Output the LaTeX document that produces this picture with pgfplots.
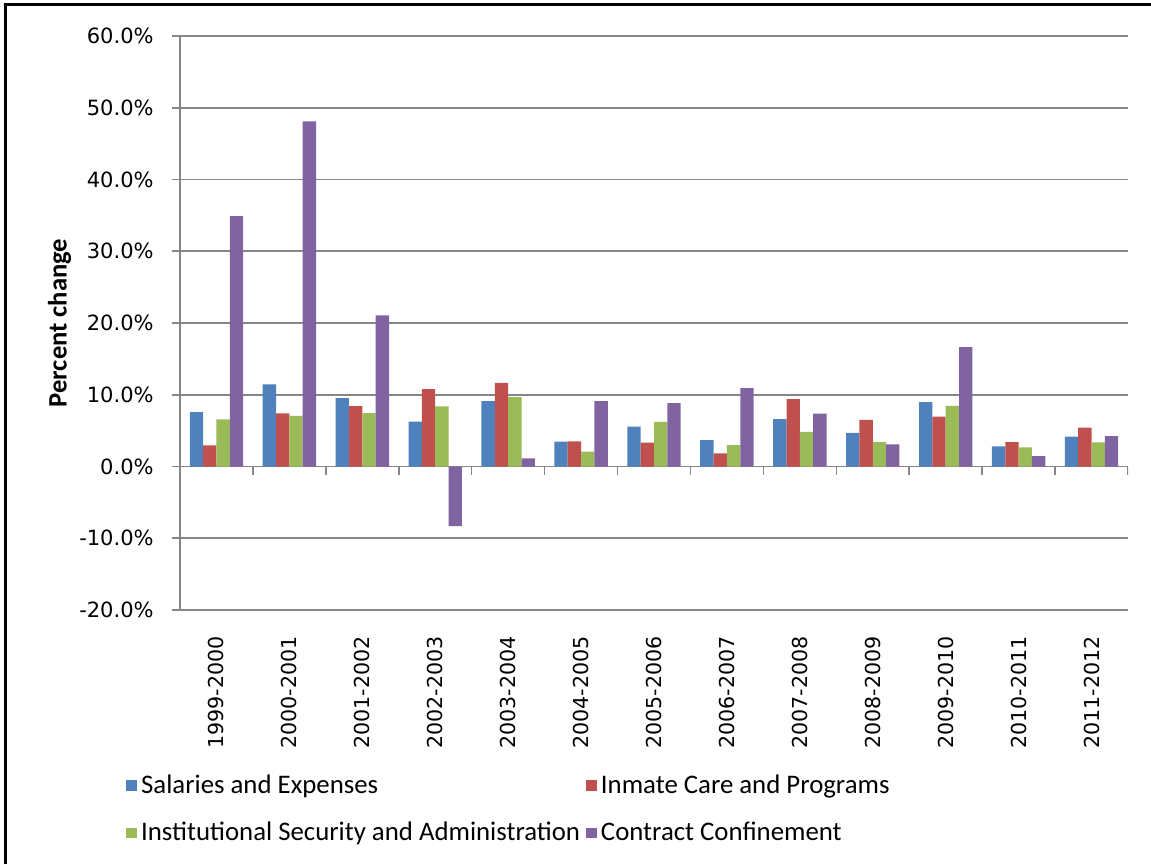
\documentclass[border=0pt]{standalone}
\usepackage{fontspec}
\setmainfont{Carlito}
\newfontfamily\dejavu{DejaVu Sans}
\usepackage{pgfplots}
\pgfplotsset{compat=1.18}
\usepackage{pgfplotstable}

\definecolor{salc}{HTML}{4F81BD}
\definecolor{inmc}{HTML}{C0504D}
\definecolor{secc}{HTML}{9BBB59}
\definecolor{conc}{HTML}{8064A2}
\definecolor{gridc}{HTML}{868686}

% percent change by fiscal year
\pgfplotstableread{
idx sal   inm   sec  con
0   7.59  2.96  6.57 34.9
1   11.44 7.41  7.04 48.1
2   9.54  8.43  7.45 21.06
3   6.25  10.79 8.38 -8.3
4   9.11  11.64 9.67 1.12
5   3.46  3.50  2.06 9.11
6   5.56  3.32  6.21 8.83
7   3.69  1.82  2.99 10.93
8   6.59  9.39  4.81 7.38
9   4.67  6.50  3.41 3.08
10  8.97  6.96  8.46 16.64
11  2.80  3.41  2.66 1.45
12  4.16  5.42  3.36 4.25
}\budget

\begin{document}
\begin{tikzpicture}
\path[use as bounding box] (0,0) rectangle (575.5pt,432pt);
\draw[line width=1.5pt] (2.5pt,0) -- (2.5pt,429.5pt) -- (575.5pt,429.5pt);
\begin{axis}[at={(90pt,127pt)}, anchor=south west
            , scale only axis
            , width=474pt
            , height=287pt
            , ybar=0pt
            , bar width=0.183
            , xmin=-0.5, xmax=12.5
            , ymin=-20, ymax=60
            , ytick={-20,-10,...,60}
            , axis lines*=left
            , axis line style={gridc, line width=0.8pt}
            , ymajorgrids
            , grid style={gridc, line width=0.8pt}
            , xtick={0,...,12}
            , xticklabels={1999-2000,2000-2001,2001-2002,2002-2003,2003-2004,2004-2005,2005-2006,2006-2007,2007-2008,2008-2009,2009-2010,2010-2011,2011-2012}
            , x tick style={draw=none}
            , xticklabel style={rotate=90, anchor=east, inner sep=0pt, font=\dejavu\fontsize{10.3}{12}\selectfont}
            , xticklabel shift=9pt
            , y tick style={gridc, line width=0.8pt}
            , tick align=outside
            , major tick length=4pt
            , yticklabel={\pgfmathprintnumber[fixed,fixed zerofill,precision=1]{\tick}\%}
            , yticklabel style={inner sep=0pt, font=\dejavu\fontsize{10.5}{12}\selectfont}
            , yticklabel shift=9pt
            , /pgf/number format/assume math mode=true
            , ylabel={Percent change}
            , ylabel style={at={(axis description cs:-0.127,0.5)}, anchor=center, font=\bfseries\fontsize{13.3}{15}\selectfont}
            , legend columns=2
            , legend cell align=left
            , legend style={at={(axis description cs:-0.057,-0.279)}, anchor=north west, draw=none, fill=none, inner sep=0pt, font=\fontsize{13.4}{15}\selectfont, row sep=9pt, /tikz/every even column/.append style={column sep=1pt}}
            , legend image code/.code={\fill[#1] (0pt,-2.7pt) rectangle (5.4pt,2.7pt);}
            ]
\addplot[fill=salc, draw=none] table[x=idx, y=sal] {\budget};
\addplot[fill=inmc, draw=none] table[x=idx, y=inm] {\budget};
\addplot[fill=secc, draw=none] table[x=idx, y=sec] {\budget};
\addplot[fill=conc, draw=none] table[x=idx, y=con] {\budget};
\pgfplotsinvokeforeach{0.5,1.5,2.5,3.5,4.5,5.5,6.5,7.5,8.5,9.5,10.5,11.5,12.5}{
  \draw[gridc, line width=0.8pt] (axis cs:#1,0) -- ([yshift=-4pt]axis cs:#1,0);
}
\legend{Salaries and Expenses, Inmate Care and Programs, Institutional Security and Administration, Contract Confinement}
\end{axis}
\end{tikzpicture}
\end{document}
